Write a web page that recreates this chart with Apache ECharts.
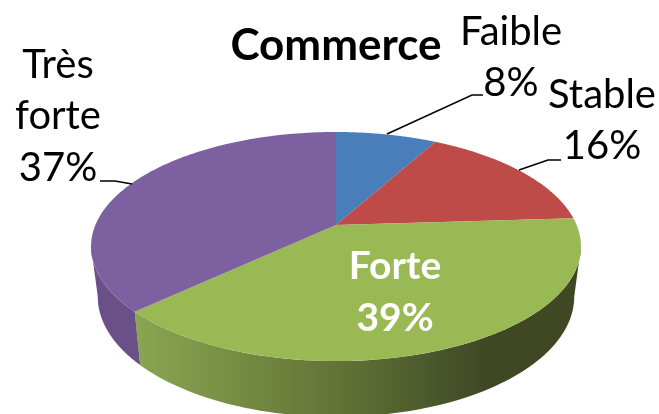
<!DOCTYPE html>
<html><head><meta charset="utf-8">
<style>html,body{margin:0;padding:0;background:#fff}#c{width:659px;height:414px}</style>
<script src="https://cdn.jsdelivr.net/npm/echarts@6/dist/echarts.min.js"></script>
</head><body><div id="c"></div>
<script>
const titleText = 'Commerce';
const categories = ['Faible', 'Stable', 'Forte', 'Très\nforte'];
const values = [8, 16, 39, 37];
const topColors = ['#4a7ebb', '#be4b48', '#98b954', '#7d60a0'];
const sideStops = [
  [[0, '#3f5f8c'], [1, '#3f5f8c']],
  [[0, '#8f3836'], [1, '#8f3836']],
  [[0, '#8aa651'], [0.5, '#5f6f33'], [0.72, '#46522a'], [0.8, '#3f4823'], [1, '#3f4823']],
  [[0, '#6a5086'], [1, '#70588f']]
];
const labelPos = [
  {x: 511, y: 6, lines: [[387, 134], [472, 95], [483, 95]]},
  {x: 602, y: 69, lines: [[519, 170], [548, 160], [561, 160]]},
  {x: 395, y: 241, lines: null},
  {x: 58, y: 39, lines: [[100, 181], [115, 181], [132, 184]]}
];
const total = values.reduce((a, b) => a + b, 0);
const starts = [];
values.reduce((acc, v, i) => { starts[i] = acc; return acc + v; }, 0);

const K = 0.188;
const SIL_R = Math.acos(-K), SIL_L = 2 * Math.PI - SIL_R;
function project(theta, ring) {
  const u = Math.sin(theta), v = -Math.cos(theta), d = 1 - K * v;
  return [336 + ring.a * u / d, ring.cy + ring.b * v / d];
}
const TOP = {a: 240.6, b: 110.5, cy: 225};
const BOT = {a: 234, b: 116, cy: 274};
function arcBetween(s, e, ring, n) {
  const pts = [];
  for (let j = 0; j <= n; j++) pts.push(project(s + (e - s) * j / n, ring));
  return pts;
}
function sliceAngles(i) {
  return [starts[i] / total * 2 * Math.PI, (starts[i] + values[i]) / total * 2 * Math.PI];
}
const chart = echarts.init(document.getElementById('c'), null, {renderer: 'canvas'});
const fontFamily = 'Lato, "Open Sans", sans-serif';
const data = values.map((v, i) => ({name: categories[i], value: v}));
chart.setOption({
  animation: false,
  backgroundColor: '#fff',
  title: {text: titleText, left: 331, top: 19, textAlign: 'center',
    textStyle: {fontFamily, fontWeight: 'bold', fontSize: 44, color: '#000'}},
  series: [
    {type: 'custom', coordinateSystem: 'none', silent: true, data, z: 1,
      renderItem(p) {
        const i = p.dataIndex;
        const [s0, e0] = sliceAngles(i);
        const s = Math.max(s0, SIL_R), e = Math.min(e0, SIL_L);
        if (e <= s) return null;
        const n = 80;
        const pts = arcBetween(s, e, TOP, n).concat(arcBetween(s, e, BOT, n).reverse());
        return {type: 'polygon', shape: {points: pts}, style: {
          fill: {type: 'linear', global: true, x: 134, y: 0, x2: 575, y2: 0,
            colorStops: sideStops[i].map(c => ({offset: c[0], color: c[1]}))}
        }};
      }},
    {type: 'custom', coordinateSystem: 'none', silent: true, data, z: 2,
      renderItem(p) {
        const i = p.dataIndex;
        const [s, e] = sliceAngles(i);
        const pts = [[336, 225]].concat(arcBetween(s, e, TOP, 120));
        return {type: 'polygon', shape: {points: pts}, style: {fill: topColors[i]}};
      }},
    {type: 'custom', coordinateSystem: 'none', silent: true, data, z: 3,
      renderItem(p) {
        const i = p.dataIndex, L = labelPos[i];
        const white = !L.lines;
        const children = [{type: 'text', style: {
          x: L.x, y: L.y, text: categories[i] + '\n' + values[i] + '%',
          align: 'center', verticalAlign: 'top',
          font: (white ? 'bold 39px ' : '40px ') + fontFamily, lineHeight: 51.5,
          fill: white ? '#fff' : '#000'}}];
        if (L.lines) children.push({type: 'polyline', shape: {points: L.lines},
          style: {stroke: '#000', lineWidth: 1.5, fill: 'none'}});
        return {type: 'group', children};
      }}
  ]
});
</script></body></html>
